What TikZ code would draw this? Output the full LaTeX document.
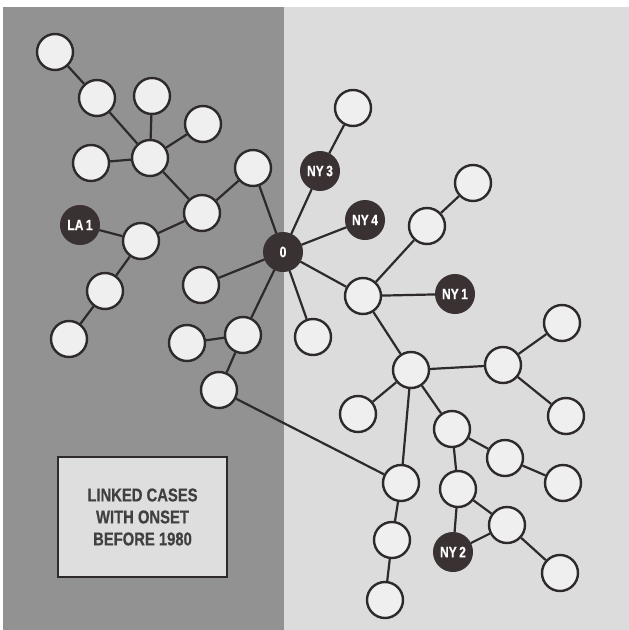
\documentclass[tikz,border=0pt]{standalone}
\usepackage{fontspec}
\newfontfamily\condbold[FakeStretch=0.8,FakeBold=0.6]{Liberation Sans Bold}
\definecolor{darkpanel}{HTML}{929292}
\definecolor{lightpanel}{HTML}{DCDCDC}
\definecolor{casefill}{HTML}{EFEFEF}
\definecolor{edgeink}{HTML}{2E2A2B}
\definecolor{markedfill}{HTML}{3A3133}
\definecolor{boxfill}{HTML}{DEDEDE}
\definecolor{boxtext}{HTML}{404040}
\begin{document}
\begin{tikzpicture}[x=1pt,y=-1pt,
  case/.style={circle,draw=edgeink,line width=2.4pt,fill=casefill,minimum size=36pt,inner sep=0pt},
  marked/.style={circle,draw=markedfill,line width=1pt,fill=markedfill,minimum size=39pt,inner sep=0pt,
    text=white,font=\condbold\fontsize{15}{15}\selectfont},
  link/.style={draw=edgeink,line width=2.2pt}]
\useasboundingbox (0,0) rectangle (629,630);
% background panels
\fill[white] (0,0) rectangle (629,630);
\fill[darkpanel] (3,7) rectangle (284,630);
\fill[lightpanel] (284,7) rectangle (629,630);

% index case
\node[marked] (O) at (283,252) {0};

% cluster on the left
\node[case] (a1) at (55,52) {};
\node[case] (a2) at (97,98) {};
\node[case] (a3) at (152,96) {};
\node[case] (a4) at (203,124) {};
\node[case] (a5) at (91,163) {};
\node[case] (h) at (150,158) {};
\node[case] (a6) at (253,168) {};
\node[case] (b) at (202,213) {};
\node[marked] (la1) at (80,225) {LA\,1};
\node[case] (c) at (141,241) {};
\node[case] (d) at (105,291) {};
\node[case] (d1) at (69,339) {};
\node[case] (e) at (201,285) {};
\node[case] (k1) at (187,343) {};
\node[case] (k2) at (243,335) {};
\node[case] (k3) at (219,390) {};

% cluster on the right
\node[case] (f1) at (353,108) {};
\node[marked] (ny3) at (320,171) {NY\,3};
\node[marked] (ny4) at (365,220) {NY\,4};
\node[case] (g1) at (427,226) {};
\node[case] (g2) at (473,183) {};
\node[case] (j) at (363,296) {};
\node[marked] (ny1) at (455,294) {NY\,1};
\node[case] (w) at (313,337) {};
\node[case] (m) at (411,370) {};
\node[case] (n) at (503,365) {};
\node[case] (n1) at (562,323) {};
\node[case] (n2) at (566,416) {};
\node[case] (p) at (358,414) {};
\node[case] (q) at (452,429) {};
\node[case] (r) at (505,458) {};
\node[case] (r1) at (563,483) {};
\node[case] (s) at (401,483) {};
\node[case] (s1) at (392,540) {};
\node[case] (s2) at (385,600) {};
\node[case] (t) at (458,489) {};
\node[case] (u) at (507,525) {};
\node[marked] (ny2) at (453,552) {NY\,2};
\node[case] (u1) at (560,573) {};

% links between cases
\foreach \x/\y in {a1/a2,a2/h,a3/h,a4/h,a5/h,h/b,b/a6,a6/O,b/c,la1/c,c/d,d/d1,e/O,
  O/k2,k2/k1,k2/k3,k3/s,O/ny3,ny3/f1,O/ny4,O/j,O/w,j/g1,g1/g2,j/ny1,j/m,
  m/n,n/n1,n/n2,m/p,m/s,m/q,q/r,r/r1,q/t,t/ny2,t/u,ny2/u,u/u1,s/s1,s1/s2}
  \draw[link] (\x) -- (\y);

% legend box
\node[draw=edgeink,line width=1.5pt,fill=boxfill,minimum width=169pt,minimum height=120pt,
  inner sep=0pt,align=center,text=boxtext,font=\condbold\fontsize{18.5}{22}\selectfont]
  (legend) at (142.5,517) {LINKED CASES\\WITH ONSET\\BEFORE 1980};
\end{tikzpicture}
\end{document}
